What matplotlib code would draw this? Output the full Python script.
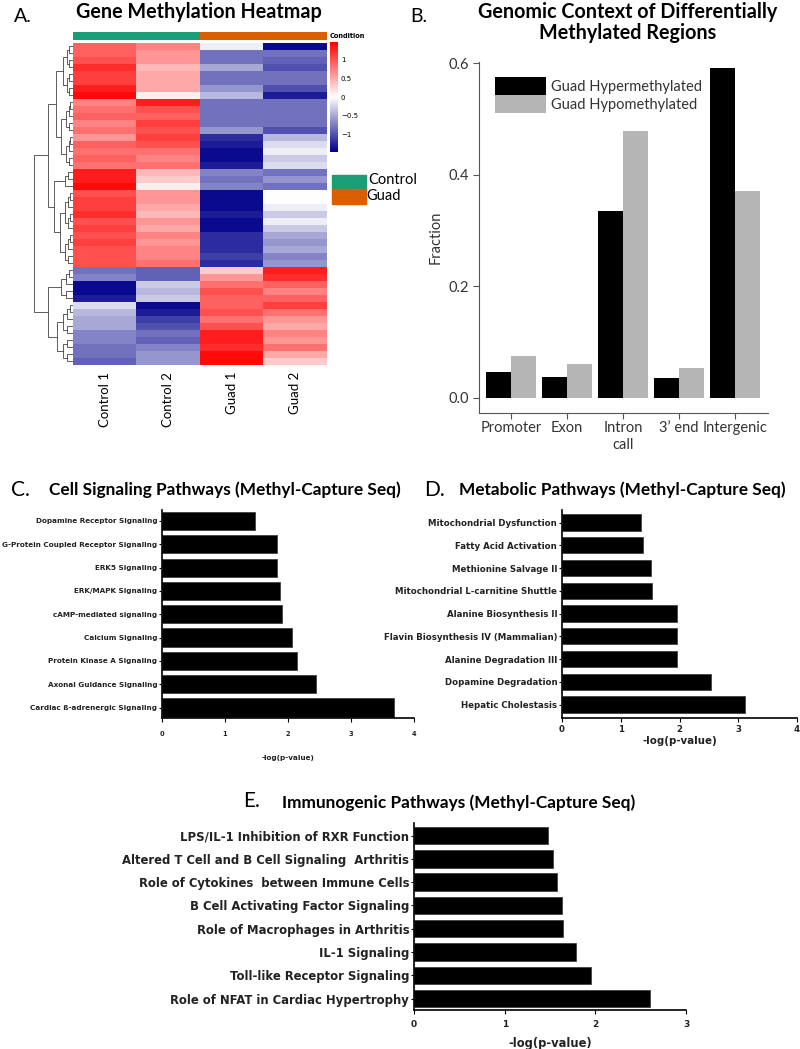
import matplotlib.pyplot as plt
import numpy as np
from matplotlib.colors import LinearSegmentedColormap, ListedColormap
from matplotlib.patches import Patch, Rectangle

W, H = 800, 1049

# ---- panel A data (row z-scores, top to bottom) ----
samples = ['Control 1', 'Control 2', 'Guad 1', 'Guad 2']
condition = [0, 0, 1, 1]
meth = [
    [0.9, 0.7, -0.1, -1.4],
    [0.9, 0.6, -0.8, -0.8],
    [1.0, 0.6, -0.8, -0.9],
    [1.2, 0.4, -0.5, -1.0],
    [1.1, 0.5, -0.8, -0.8],
    [1.1, 0.5, -0.8, -0.8],
    [1.3, 0.5, -0.6, -1.0],
    [1.4, 0.1, -0.4, -1.3],
    [0.7, 1.3, -0.8, -0.8],
    [0.8, 1.0, -0.8, -0.8],
    [0.9, 0.9, -0.8, -0.8],
    [0.7, 1.1, -0.8, -0.8],
    [0.8, 1.0, -0.6, -1.0],
    [0.6, 1.1, -1.2, -0.4],
    [0.9, 1.0, -1.3, -0.2],
    [0.8, 0.8, -1.4, -0.1],
    [0.9, 0.7, -1.4, -0.3],
    [0.8, 0.8, -1.3, -0.2],
    [1.3, 0.4, -0.7, -0.8],
    [1.3, 0.3, -0.8, -0.6],
    [1.4, 0.1, -0.7, -0.8],
    [1.0, 0.6, -1.4, 0.0],
    [1.1, 0.6, -1.4, 0.0],
    [1.1, 0.5, -1.4, -0.1],
    [1.2, 0.4, -1.3, -0.3],
    [1.0, 0.6, -1.4, -0.1],
    [1.1, 0.5, -1.4, -0.3],
    [1.0, 0.7, -1.2, -0.5],
    [1.1, 0.6, -1.2, -0.6],
    [1.0, 0.7, -1.2, -0.5],
    [1.0, 0.7, -1.1, -0.7],
    [1.0, 0.8, -1.2, -0.6],
    [-0.8, -0.9, 0.3, 1.3],
    [-0.7, -0.9, 0.6, 1.2],
    [-1.4, -0.3, 0.8, 0.9],
    [-1.4, -0.4, 1.0, 0.7],
    [-1.3, -0.3, 0.9, 0.9],
    [-0.2, -1.4, 0.9, 1.1],
    [-0.4, -1.3, 1.0, 0.8],
    [-0.5, -1.1, 0.8, 0.6],
    [-0.5, -1.0, 1.0, 0.5],
    [-0.7, -0.8, 1.3, 0.7],
    [-0.7, -0.9, 1.3, 0.6],
    [-0.8, -0.7, 1.2, 0.8],
    [-0.8, -0.6, 1.4, 0.5],
    [-0.9, -0.6, 1.4, 0.3],
]

# ---- panel B data ----
regions = ['Promoter', 'Exon', 'Intron\ncall', '3\u2019 end', 'Intergenic']
hyper = [0.047, 0.037, 0.335, 0.035, 0.591]
hypo = [0.075, 0.060, 0.478, 0.054, 0.371]

# ---- panels C, D, E (top to bottom as drawn) ----
cell_paths = ['Dopamine Receptor Signaling', 'G-Protein Coupled Receptor Signaling',
              'ERK5 Signaling', 'ERK/MAPK Signaling', 'cAMP-mediated signaling',
              'Calcium Signaling', 'Protein Kinase A Signaling',
              'Axonal Guidance Signaling', 'Cardiac \u00df-adrenergic Signaling']
cell_vals = [1.47, 1.82, 1.82, 1.87, 1.90, 2.06, 2.15, 2.44, 3.68]

metab_paths = ['Mitochondrial Dysfunction', 'Fatty Acid Activation',
               'Methionine Salvage II', 'Mitochondrial L-carnitine Shuttle',
               'Alanine Biosynthesis II', 'Flavin Biosynthesis IV (Mammalian)',
               'Alanine Degradation III', 'Dopamine Degradation', 'Hepatic Cholestasis']
metab_vals = [1.35, 1.38, 1.51, 1.54, 1.95, 1.95, 1.95, 2.53, 3.12]

immune_paths = ['LPS/IL-1 Inhibition of RXR Function',
                'Altered T Cell and B Cell Signaling  Arthritis',
                'Role of Cytokines  between Immune Cells',
                'B Cell Activating Factor Signaling',
                'Role of Macrophages in Arthritis', 'IL-1 Signaling',
                'Toll-like Receptor Signaling', 'Role of NFAT in Cardiac Hypertrophy']
immune_vals = [1.48, 1.53, 1.58, 1.63, 1.64, 1.79, 1.95, 2.60]


def box(x0, y0, x1, y1):
    return [x0 / W, 1 - y1 / H, (x1 - x0) / W, (y1 - y0) / H]


def ftext(x, y, s, **kw):
    fig.text(x / W, 1 - y / H, s, **kw)


def comb(lo, hi, h):
    if lo == hi:
        return lo
    mid = (lo + hi) // 2
    return (h, comb(lo, mid, h * 0.6), comb(mid + 1, hi, h * 0.6))


def draw_node(ax, node):
    if isinstance(node, int):
        return node, 0.0
    h, left, right = node
    y1, h1 = draw_node(ax, left)
    y2, h2 = draw_node(ax, right)
    ax.plot([h1, h, h, h2], [y1, y1, y2, y2], color='#444444', lw=0.6)
    return (y1 + y2) / 2, h


fig = plt.figure(figsize=(8, 10.49), dpi=100)
TF = 'Lato'

# ================= A =================
cmap = LinearSegmentedColormap.from_list('bwr2', ['#00008b', '#ffffff', '#ff0000'])
axh = fig.add_axes(box(73, 43, 327, 365))
im = axh.imshow(np.array(meth), cmap=cmap, vmin=-1.46, vmax=1.46,
                aspect='auto', interpolation='nearest')
axh.set_yticks([])
axh.set_xticks(range(4))
axh.set_xticklabels(samples, rotation=90, fontsize=9.5, family=TF)
axh.tick_params(axis='x', length=0, pad=5)
for s in axh.spines.values():
    s.set_visible(False)

axa = fig.add_axes(box(73, 32, 327, 40))
axa.imshow([condition], cmap=ListedColormap(['#1b9e77', '#d95f02']), aspect='auto')
axa.axis('off')

axd = fig.add_axes(box(33, 43, 73, 365))
tree = (0.97,
        (0.63, (0.42, comb(0, 7, 0.25), comb(8, 17, 0.3)),
               (0.47, comb(18, 20, 0.2), comb(21, 31, 0.32))),
        (0.62, comb(32, 36, 0.3), comb(37, 45, 0.4)))
draw_node(axd, tree)
axd.set_xlim(1.0, 0)
axd.set_ylim(len(meth) - 0.5, -0.5)
axd.axis('off')

cax = fig.add_axes(box(330, 42, 338, 152))
cb = fig.colorbar(im, cax=cax, ticks=[-1, -0.5, 0, 0.5, 1])
cb.set_ticklabels(['\u22121', '\u22120.5', '0', '0.5', '1'])
cb.outline.set_visible(False)
cax.tick_params(labelsize=5, length=0, pad=2)
ftext(330, 36, 'Condition', fontsize=4.8, fontweight='bold', va='center')

fig.patches.append(Rectangle((332 / W, 1 - 189 / H), 34 / W, 14 / H,
                             transform=fig.transFigure, color='#1b9e77'))
fig.patches.append(Rectangle((332 / W, 1 - 204 / H), 34 / W, 15 / H,
                             transform=fig.transFigure, color='#d95f02'))
ftext(368, 180, 'Control', fontsize=10.5, family=TF, va='center')
ftext(366, 196, 'Guad', fontsize=10.5, family=TF, va='center')

ftext(14, 16, 'A.', fontsize=14, family=TF, va='center')
ftext(199, 12, 'Gene Methylation Heatmap', fontsize=14.2, family=TF,
      fontweight='bold', ha='center', va='center')

# ================= B =================
axB = fig.add_axes(box(479, 62, 768, 413))
x = np.arange(len(regions))
axB.bar(x - 0.225, hyper, 0.45, color='black')
axB.bar(x + 0.225, hypo, 0.45, color='#b5b5b5')
axB.set_xlim(-0.571, 4.589)
axB.set_ylim(-0.027, 0.602)
axB.set_yticks([0, 0.2, 0.4, 0.6])
axB.set_yticklabels(['0.0', '0.2', '0.4', '0.6'])
axB.set_xticks(x)
axB.set_xticklabels(regions)
for lab in axB.get_xticklabels() + axB.get_yticklabels():
    lab.set_family(TF)
    lab.set_fontsize(10.5)
    lab.set_color('#333333')
axB.tick_params(length=4, color='#555555', width=0.8)
axB.tick_params(axis='x', pad=2)
axB.spines[['top', 'right']].set_visible(False)
axB.spines[['left', 'bottom']].set_color('#555555')
axB.set_ylabel('Fraction', family=TF, fontsize=10.5, color='#333333', labelpad=4)
axB.legend(handles=[Patch(fc='black'), Patch(fc='#b5b5b5')],
           labels=['Guad Hypermethylated', 'Guad Hypomethylated'],
           loc='upper left', bbox_to_anchor=(0.055, 0.957), frameon=False,
           handlelength=3.5, handleheight=1.5, labelspacing=0.0,
           handletextpad=0.35, borderaxespad=0, borderpad=0,
           prop={'family': TF, 'size': 10.5}, labelcolor='#333333')
ftext(410, 17, 'B.', fontsize=14, family=TF, va='center')
ftext(628, 12, 'Genomic Context of Differentially', fontsize=14.2, family=TF,
      fontweight='bold', ha='center', va='center')
ftext(628, 33, 'Methylated Regions', fontsize=14.2, family=TF,
      fontweight='bold', ha='center', va='center')


# ================= C, D, E =================
def hbar_panel(rect, labels, vals, xmax, ylim, bar_h, lab_fs, tick_fs,
               xl_fs, xl_y, tick_pad):
    ax = fig.add_axes(rect)
    n = len(labels)
    ys = np.arange(n)[::-1]
    ax.barh(ys, vals, height=bar_h, color='black', edgecolor='#333333', lw=0.5)
    ax.set_xlim(0, xmax)
    ax.set_ylim(*ylim)
    ax.set_yticks(ys)
    ax.set_yticklabels(labels, fontsize=lab_fs, fontweight='bold',
                       family='DejaVu Sans', color='#222222')
    ax.set_xticks(range(xmax + 1))
    ax.set_xticklabels([str(i) for i in range(xmax + 1)], fontsize=tick_fs,
                       fontweight='bold', color='#222222')
    ax.tick_params(axis='y', length=2.5, width=0.8, pad=1)
    ax.tick_params(axis='x', length=3, width=0.8, pad=tick_pad)
    ax.spines[['top', 'right']].set_visible(False)
    ax.spines[['left', 'bottom']].set_linewidth(1.2)
    ax.set_xlabel('-log(p-value)', fontsize=xl_fs, fontweight='bold', color='#222222')
    ax.xaxis.set_label_coords(0.5, xl_y)
    ax.xaxis.label.set_va('center')
    return ax


hbar_panel(box(162, 510, 414, 718), cell_paths, cell_vals, 4, (-0.45, 8.47),
           0.78, 5.2, 4.8, 5.2, (718 - 758) / 208, 6)
ftext(11, 490, 'C.', fontsize=15, family=TF, va='center')
ftext(225, 490, 'Cell Signaling Pathways (Methyl-Capture Seq)', fontsize=12.4,
      family=TF, fontweight='bold', ha='center', va='center')

hbar_panel(box(562, 510, 797, 718), metab_paths, metab_vals, 4, (-0.59, 8.55),
           0.72, 6.2, 6.2, 7.4, (718 - 741) / 208, 2)
ftext(424, 490, 'D.', fontsize=15, family=TF, va='center')
ftext(622, 490, 'Metabolic Pathways (Methyl-Capture Seq)', fontsize=12.4,
      family=TF, fontweight='bold', ha='center', va='center')

hbar_panel(box(414, 823, 686, 1010), immune_paths, immune_vals, 3, (-0.49, 7.54),
           0.75, 8.4, 6.5, 8.3, (1010 - 1043) / 187, 4)
ftext(243, 801, 'E.', fontsize=15, family=TF, va='center')
ftext(459, 803, 'Immunogenic Pathways (Methyl-Capture Seq)', fontsize=12.4,
      family=TF, fontweight='bold', ha='center', va='center')

fig.savefig('out.png', dpi=100)
